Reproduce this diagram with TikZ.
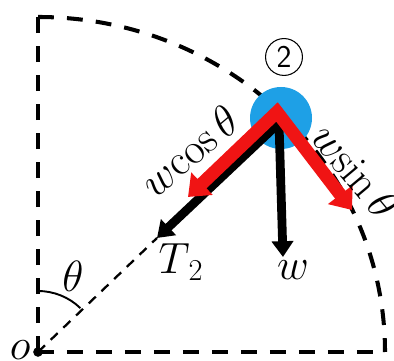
\documentclass[tikz,border=0pt]{standalone}
\usepackage{amsmath}
\usepackage{tikz}
\usetikzlibrary{arrows.meta, positioning}
\definecolor{cBall}{HTML}{1EA0E6}
\definecolor{cForce}{HTML}{F01414}

\begin{document}
\begin{tikzpicture}[
  bigdash/.style={line width=2.3pt, dash pattern=on 9pt off 7.5pt},
  thindash/.style={line width=1.3pt, dash pattern=on 5.5pt off 4.5pt},
  compo/.style={line width=7.4pt, cForce, line join=miter,
    {Triangle[width=17pt, length=11pt]}-{Triangle[width=17pt, length=11pt]}},
  force/.style={line width=5pt, -{Triangle[width=12pt, length=9pt]}},
  lbl/.style={font=\fontsize{24}{28}\selectfont, inner sep=0pt},
  slbl/.style={font=\fontsize{23}{27}\selectfont, inner sep=0pt},
]
\useasboundingbox (-0.76,-0.18) rectangle (7.12,7.04);
\node[circle, fill, minimum size=5.5pt, inner sep=0pt] (o) at (0,0) {};
\coordinate (top) at (0,6.70);
\coordinate (rend) at (6.94,0);
\draw[bigdash] (o.center) -- (top);
\draw[bigdash] (o.center) -- (rend);
\draw[bigdash] (top) arc[start angle=90, end angle=0, x radius=6.94cm, y radius=6.70cm];
\node[lbl, left=0.04cm of o, yshift=1pt] {$o$};
\node[circle, fill=cBall, minimum size=1.24cm, inner sep=0pt] (ball) at (4.86,4.68) {};
\node[draw, circle, line width=0.6pt, minimum size=21pt, inner sep=0pt,
  font=\sffamily\fontsize{18}{21}\selectfont] (num) at (4.92,5.90) {2};
\coordinate (hub) at (4.82,4.58);
\coordinate (ttip) at (2.38,2.28);
\coordinate (wtip) at (4.90,1.90);
\draw[thindash] (o.center) -- (ttip);
\draw[line width=1.1pt] (0,1.22) arc[start angle=90, end angle=46, radius=1.22cm];
\node[lbl] (th) at (0.70,1.52) {$\theta$};
\draw[force] (hub) -- (ttip);
\draw[force] (hub) -- (wtip);
\node[lbl] (tlbl) at (2.86,1.80) {$T_{\,2}$};
\node[lbl] (wlbl) at (5.10,1.64) {$w$};
\coordinate (apex) at (4.78,4.80);
\coordinate (cl) at (3.00,3.10);
\coordinate (cr) at (6.28,2.84);
\draw[compo] (cl) -- (apex) -- (cr);
\node[slbl, rotate=40] (cosl) at (3.02,4.02) {$w\mathrm{cos}\,\theta$};
\node[slbl, rotate=-50] (sinl) at (6.36,3.62) {$w\mathrm{sin}\,\theta$};
\end{tikzpicture}
\end{document}
